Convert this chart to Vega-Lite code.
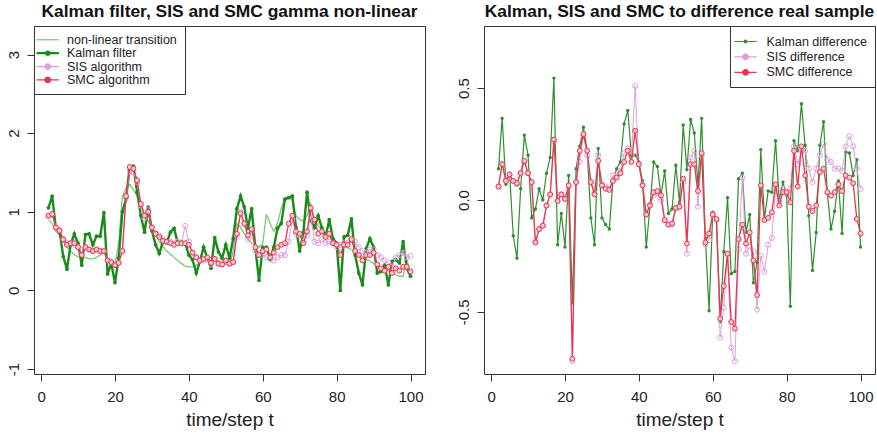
{
"$schema": "https://vega.github.io/schema/vega-lite/v6.json",
"background": "white",
"padding": {"left": 5, "top": 2, "right": 0, "bottom": 0},
"bounds": "flush",
"spacing": 59,
"config": {
  "font": "Liberation Sans",
  "view": {"stroke": "#333", "strokeWidth": 1},
  "axis": {"domain": false, "grid": false, "tickColor": "#333", "tickSize": 7, "labelFontSize": 15, "labelColor": "#222", "labelFont": "Liberation Sans", "titleFont": "Liberation Sans", "titleFontWeight": "normal", "titleFontSize": 19, "titleColor": "#222"},
  "axisX": {"labelPadding": 8, "titlePadding": 6},
  "axisY": {"labelAngle": 270, "labelAlign": "center", "labelBaseline": "bottom", "labelPadding": 6},
  "title": {"font": "Liberation Sans", "fontSize": 17.4, "fontWeight": "bold", "color": "#111", "anchor": "middle", "offset": 5},
  "legend": {"strokeColor": "#333", "fillColor": "white", "padding": 7.5, "rowPadding": 0.4, "labelFontSize": 12.5, "labelFont": "Liberation Sans", "labelColor": "#222", "labelOffset": 13, "symbolSize": 196, "cornerRadius": 0, "offset": 0}
},
"datasets": {
  "left": [
{"t":2,"nl":0.9,"kf":1.05,"sis":0.95,"smc":0.95},
{"t":3,"nl":0.85,"kf":1.2,"sis":0.97,"smc":0.97},
{"t":4,"nl":0.75,"kf":0.79,"sis":0.8,"smc":0.8},
{"t":5,"nl":0.7,"kf":0.75,"sis":0.77,"smc":0.76},
{"t":6,"nl":0.62,"kf":0.43,"sis":0.65,"smc":0.65},
{"t":7,"nl":0.55,"kf":0.27,"sis":0.6,"smc":0.58},
{"t":8,"nl":0.5,"kf":0.58,"sis":0.6,"smc":0.6},
{"t":9,"nl":0.45,"kf":0.72,"sis":0.58,"smc":0.6},
{"t":10,"nl":0.43,"kf":0.6,"sis":0.55,"smc":0.55},
{"t":11,"nl":0.42,"kf":0.32,"sis":0.46,"smc":0.45},
{"t":12,"nl":0.42,"kf":0.71,"sis":0.55,"smc":0.55},
{"t":13,"nl":0.4,"kf":0.72,"sis":0.52,"smc":0.52},
{"t":14,"nl":0.4,"kf":0.58,"sis":0.5,"smc":0.5},
{"t":15,"nl":0.42,"kf":0.69,"sis":0.52,"smc":0.52},
{"t":16,"nl":0.45,"kf":0.69,"sis":0.5,"smc":0.5},
{"t":17,"nl":0.48,"kf":0.99,"sis":0.5,"smc":0.5},
{"t":18,"nl":0.4,"kf":0.21,"sis":0.38,"smc":0.38},
{"t":19,"nl":0.35,"kf":0.34,"sis":0.36,"smc":0.36},
{"t":20,"nl":0.33,"kf":0.1,"sis":0.33,"smc":0.32},
{"t":21,"nl":0.6,"kf":0.41,"sis":0.35,"smc":0.35},
{"t":22,"nl":1.2,"kf":1.0,"sis":0.5,"smc":0.5},
{"t":23,"nl":1.3,"kf":1.16,"sis":1.18,"smc":1.2},
{"t":24,"nl":1.35,"kf":1.58,"sis":1.52,"smc":1.57},
{"t":25,"nl":1.28,"kf":1.58,"sis":1.5,"smc":1.55},
{"t":26,"nl":1.2,"kf":1.25,"sis":1.38,"smc":1.4},
{"t":27,"nl":1.1,"kf":0.95,"sis":1.08,"smc":1.1},
{"t":28,"nl":0.98,"kf":0.74,"sis":0.92,"smc":0.95},
{"t":29,"nl":0.88,"kf":1.06,"sis":1.02,"smc":1.0},
{"t":30,"nl":0.78,"kf":0.76,"sis":0.8,"smc":0.8},
{"t":31,"nl":0.7,"kf":0.58,"sis":0.73,"smc":0.72},
{"t":32,"nl":0.62,"kf":0.47,"sis":0.7,"smc":0.68},
{"t":33,"nl":0.56,"kf":0.62,"sis":0.65,"smc":0.63},
{"t":34,"nl":0.5,"kf":0.6,"sis":0.62,"smc":0.62},
{"t":35,"nl":0.46,"kf":0.74,"sis":0.62,"smc":0.6},
{"t":36,"nl":0.42,"kf":0.79,"sis":0.6,"smc":0.58},
{"t":37,"nl":0.38,"kf":0.6,"sis":0.62,"smc":0.6},
{"t":38,"nl":0.34,"kf":0.62,"sis":0.6,"smc":0.6},
{"t":39,"nl":0.31,"kf":0.6,"sis":0.82,"smc":0.6},
{"t":40,"nl":0.3,"kf":0.45,"sis":0.62,"smc":0.58},
{"t":41,"nl":0.3,"kf":0.39,"sis":0.48,"smc":0.48},
{"t":42,"nl":0.32,"kf":0.22,"sis":0.42,"smc":0.42},
{"t":43,"nl":0.35,"kf":0.37,"sis":0.38,"smc":0.38},
{"t":44,"nl":0.38,"kf":0.55,"sis":0.38,"smc":0.4},
{"t":45,"nl":0.4,"kf":0.41,"sis":0.4,"smc":0.42},
{"t":46,"nl":0.42,"kf":0.28,"sis":0.33,"smc":0.35},
{"t":47,"nl":0.4,"kf":0.67,"sis":0.4,"smc":0.4},
{"t":48,"nl":0.38,"kf":0.49,"sis":0.34,"smc":0.34},
{"t":49,"nl":0.35,"kf":0.41,"sis":0.33,"smc":0.33},
{"t":50,"nl":0.33,"kf":0.58,"sis":0.38,"smc":0.38},
{"t":51,"nl":0.32,"kf":0.41,"sis":0.34,"smc":0.34},
{"t":52,"nl":0.5,"kf":0.66,"sis":0.36,"smc":0.36},
{"t":53,"nl":0.85,"kf":1.04,"sis":0.7,"smc":0.72},
{"t":54,"nl":0.8,"kf":1.2,"sis":1.0,"smc":0.98},
{"t":55,"nl":0.72,"kf":1.06,"sis":0.85,"smc":0.85},
{"t":56,"nl":0.65,"kf":0.79,"sis":0.65,"smc":0.7},
{"t":57,"nl":0.6,"kf":1.04,"sis":0.75,"smc":0.78},
{"t":58,"nl":0.58,"kf":0.53,"sis":0.5,"smc":0.55},
{"t":59,"nl":0.55,"kf":0.13,"sis":0.45,"smc":0.45},
{"t":60,"nl":0.6,"kf":0.55,"sis":0.45,"smc":0.5},
{"t":61,"nl":0.97,"kf":0.55,"sis":0.42,"smc":0.52},
{"t":62,"nl":0.85,"kf":0.4,"sis":0.4,"smc":0.42},
{"t":63,"nl":0.75,"kf":0.55,"sis":0.38,"smc":0.48},
{"t":64,"nl":0.85,"kf":0.79,"sis":0.42,"smc":0.55},
{"t":65,"nl":1.05,"kf":0.85,"sis":0.45,"smc":0.58},
{"t":66,"nl":1.16,"kf":1.16,"sis":0.45,"smc":0.6},
{"t":67,"nl":1.18,"kf":1.18,"sis":0.62,"smc":0.85},
{"t":68,"nl":1.15,"kf":1.2,"sis":0.9,"smc":0.95},
{"t":69,"nl":0.95,"kf":0.8,"sis":0.72,"smc":0.75},
{"t":70,"nl":0.9,"kf":0.5,"sis":0.7,"smc":0.72},
{"t":71,"nl":0.88,"kf":0.74,"sis":0.62,"smc":0.6},
{"t":72,"nl":0.95,"kf":1.25,"sis":0.7,"smc":0.75},
{"t":73,"nl":1.1,"kf":0.89,"sis":0.95,"smc":1.05},
{"t":74,"nl":0.9,"kf":0.8,"sis":0.62,"smc":0.9},
{"t":75,"nl":0.82,"kf":0.95,"sis":0.6,"smc":0.72},
{"t":76,"nl":0.78,"kf":0.8,"sis":0.65,"smc":0.75},
{"t":77,"nl":0.72,"kf":0.68,"sis":0.6,"smc":0.68},
{"t":78,"nl":0.68,"kf":0.9,"sis":0.62,"smc":0.72},
{"t":79,"nl":0.65,"kf":0.66,"sis":0.6,"smc":0.6},
{"t":80,"nl":0.6,"kf":0.6,"sis":0.55,"smc":0.58},
{"t":81,"nl":0.58,"kf":0.0,"sis":0.58,"smc":0.45},
{"t":82,"nl":0.56,"kf":0.68,"sis":0.6,"smc":0.58},
{"t":83,"nl":0.54,"kf":0.7,"sis":0.6,"smc":0.58},
{"t":84,"nl":0.52,"kf":0.91,"sis":0.65,"smc":0.65},
{"t":85,"nl":0.5,"kf":0.45,"sis":0.62,"smc":0.5},
{"t":86,"nl":0.46,"kf":0.22,"sis":0.55,"smc":0.45},
{"t":87,"nl":0.43,"kf":0.07,"sis":0.5,"smc":0.38},
{"t":88,"nl":0.4,"kf":0.53,"sis":0.48,"smc":0.45},
{"t":89,"nl":0.37,"kf":0.66,"sis":0.52,"smc":0.45},
{"t":90,"nl":0.34,"kf":0.55,"sis":0.52,"smc":0.48},
{"t":91,"nl":0.3,"kf":0.22,"sis":0.45,"smc":0.33},
{"t":92,"nl":0.28,"kf":0.24,"sis":0.42,"smc":0.28},
{"t":93,"nl":0.27,"kf":0.32,"sis":0.38,"smc":0.25},
{"t":94,"nl":0.25,"kf":0.07,"sis":0.35,"smc":0.3},
{"t":95,"nl":0.22,"kf":0.37,"sis":0.3,"smc":0.22},
{"t":96,"nl":0.2,"kf":0.39,"sis":0.42,"smc":0.28},
{"t":97,"nl":0.18,"kf":0.35,"sis":0.45,"smc":0.25},
{"t":98,"nl":0.18,"kf":0.62,"sis":0.48,"smc":0.3},
{"t":99,"nl":0.4,"kf":0.28,"sis":0.42,"smc":0.3},
{"t":100,"nl":0.2,"kf":0.18,"sis":0.44,"smc":0.24}
  ],
  "right": [
{"t":2,"kd":0.14,"sd":0.06,"md":0.06},
{"t":3,"kd":0.365,"sd":0.16,"md":0.16},
{"t":4,"kd":0.07,"sd":0.09,"md":0.085},
{"t":5,"kd":0.12,"sd":0.11,"md":0.115},
{"t":6,"kd":-0.16,"sd":0.085,"md":0.085},
{"t":7,"kd":-0.26,"sd":0.07,"md":0.075},
{"t":8,"kd":0.05,"sd":0.12,"md":0.12},
{"t":9,"kd":0.29,"sd":0.17,"md":0.175},
{"t":10,"kd":0.2,"sd":0.12,"md":0.12},
{"t":11,"kd":-0.08,"sd":0.08,"md":0.08},
{"t":12,"kd":-0.04,"sd":-0.19,"md":-0.19},
{"t":13,"kd":0.05,"sd":-0.13,"md":-0.13},
{"t":14,"kd":0.0,"sd":-0.115,"md":-0.115},
{"t":15,"kd":0.12,"sd":-0.025,"md":-0.025},
{"t":16,"kd":0.19,"sd":0.025,"md":0.025},
{"t":17,"kd":0.545,"sd":0.26,"md":0.27},
{"t":18,"kd":-0.2,"sd":-0.005,"md":-0.005},
{"t":19,"kd":-0.06,"sd":0.025,"md":0.025},
{"t":20,"kd":-0.21,"sd":0.005,"md":0.005},
{"t":21,"kd":0.11,"sd":0.06,"md":0.065},
{"t":22,"kd":-0.46,"sd":-0.72,"md":-0.71},
{"t":23,"kd":0.14,"sd":0.08,"md":0.08},
{"t":24,"kd":0.24,"sd":0.17,"md":0.22},
{"t":25,"kd":0.325,"sd":0.29,"md":0.295},
{"t":26,"kd":0.22,"sd":0.2,"md":0.22},
{"t":27,"kd":-0.08,"sd":0.08,"md":0.08},
{"t":28,"kd":-0.2,"sd":0.03,"md":0.025},
{"t":29,"kd":0.23,"sd":0.2,"md":0.175},
{"t":30,"kd":-0.08,"sd":0.07,"md":0.065},
{"t":31,"kd":-0.11,"sd":0.06,"md":0.05},
{"t":32,"kd":-0.13,"sd":0.05,"md":0.045},
{"t":33,"kd":0.09,"sd":0.11,"md":0.085},
{"t":34,"kd":0.14,"sd":0.11,"md":0.1},
{"t":35,"kd":0.17,"sd":0.13,"md":0.12},
{"t":36,"kd":0.34,"sd":0.21,"md":0.17},
{"t":37,"kd":0.4,"sd":0.23,"md":0.22},
{"t":38,"kd":0.2,"sd":0.2,"md":0.17},
{"t":39,"kd":0.2,"sd":0.51,"md":0.31},
{"t":40,"kd":0.17,"sd":0.16,"md":0.16},
{"t":41,"kd":0.085,"sd":0.07,"md":0.065},
{"t":42,"kd":-0.21,"sd":-0.06,"md":-0.065},
{"t":43,"kd":-0.03,"sd":-0.02,"md":-0.025},
{"t":44,"kd":0.17,"sd":0.02,"md":0.035},
{"t":45,"kd":0.15,"sd":0.03,"md":0.04},
{"t":46,"kd":0.02,"sd":0.0,"md":0.02},
{"t":47,"kd":0.13,"sd":-0.09,"md":-0.09},
{"t":48,"kd":-0.06,"sd":-0.11,"md":-0.11},
{"t":49,"kd":-0.04,"sd":-0.11,"md":-0.105},
{"t":50,"kd":0.155,"sd":-0.04,"md":-0.035},
{"t":51,"kd":-0.01,"sd":-0.03,"md":-0.03},
{"t":52,"kd":0.335,"sd":0.08,"md":0.095},
{"t":53,"kd":0.135,"sd":-0.24,"md":-0.195},
{"t":54,"kd":0.36,"sd":0.19,"md":0.16},
{"t":55,"kd":0.3,"sd":0.22,"md":0.16},
{"t":56,"kd":0.065,"sd":-0.03,"md":0.04},
{"t":57,"kd":0.365,"sd":0.2,"md":0.21},
{"t":58,"kd":-0.17,"sd":-0.2,"md":-0.19},
{"t":59,"kd":-0.495,"sd":-0.18,"md":-0.15},
{"t":60,"kd":-0.055,"sd":-0.06,"md":-0.065},
{"t":61,"kd":-0.085,"sd":-0.09,"md":-0.085},
{"t":62,"kd":-0.545,"sd":-0.615,"md":-0.53},
{"t":63,"kd":-0.23,"sd":-0.48,"md":-0.385},
{"t":64,"kd":0.01,"sd":-0.24,"md":-0.24},
{"t":65,"kd":-0.33,"sd":-0.66,"md":-0.545},
{"t":66,"kd":-0.32,"sd":-0.72,"md":-0.575},
{"t":67,"kd":0.095,"sd":-0.22,"md":-0.175},
{"t":68,"kd":0.12,"sd":0.1,"md":-0.11},
{"t":69,"kd":-0.145,"sd":-0.24,"md":-0.195},
{"t":70,"kd":-0.065,"sd":-0.21,"md":-0.145},
{"t":71,"kd":-0.37,"sd":-0.23,"md":-0.27},
{"t":72,"kd":-0.28,"sd":-0.49,"md":-0.425},
{"t":73,"kd":0.225,"sd":-0.25,"md":0.065},
{"t":74,"kd":-0.085,"sd":-0.32,"md":-0.09},
{"t":75,"kd":0.04,"sd":-0.2,"md":-0.08},
{"t":76,"kd":0.035,"sd":-0.17,"md":-0.055},
{"t":77,"kd":0.265,"sd":0.05,"md":0.07},
{"t":78,"kd":0.0,"sd":-0.01,"md":-0.025},
{"t":79,"kd":0.08,"sd":0.05,"md":0.035},
{"t":80,"kd":0.02,"sd":0.03,"md":0.035},
{"t":81,"kd":-0.475,"sd":0.05,"md":-0.01},
{"t":82,"kd":0.265,"sd":0.24,"md":0.22},
{"t":83,"kd":0.22,"sd":0.16,"md":0.06},
{"t":84,"kd":0.43,"sd":0.22,"md":0.24},
{"t":85,"kd":0.245,"sd":0.22,"md":0.11},
{"t":86,"kd":-0.07,"sd":0.14,"md":-0.03},
{"t":87,"kd":-0.315,"sd":0.08,"md":-0.05},
{"t":88,"kd":-0.145,"sd":0.14,"md":-0.025},
{"t":89,"kd":0.245,"sd":0.2,"md":0.125},
{"t":90,"kd":0.35,"sd":0.25,"md":0.14},
{"t":91,"kd":0.035,"sd":0.18,"md":0.035},
{"t":92,"kd":-0.13,"sd":0.17,"md":0.02},
{"t":93,"kd":-0.05,"sd":0.14,"md":0.035},
{"t":94,"kd":0.085,"sd":0.14,"md":0.07},
{"t":95,"kd":-0.15,"sd":0.13,"md":0.04},
{"t":96,"kd":0.215,"sd":0.24,"md":0.11},
{"t":97,"kd":0.21,"sd":0.285,"md":0.1},
{"t":98,"kd":0.11,"sd":0.24,"md":0.075},
{"t":99,"kd":0.18,"sd":0.14,"md":-0.085},
{"t":100,"kd":-0.21,"sd":0.05,"md":-0.15}
  ]
},
"resolve": {"scale": {"color": "independent", "x": "independent", "y": "independent"}, "legend": {"color": "independent"}},
"hconcat": [
  {
    "width": 391, "height": 348,
    "title": "Kalman filter, SIS and SMC gamma non-linear",
    "data": {"name": "left"},
    "encoding": {
      "x": {"field": "t", "type": "quantitative", "scale": {"domain": [-1.92, 103.92], "nice": false, "zero": false}, "axis": {"values": [0, 20, 40, 60, 80, 100], "labelExpr": "'' + datum.value", "title": "time/step t"}}
    },
    "layer": [
      {"mark": {"type": "line", "strokeWidth": 1.3},
       "encoding": {"y": {"field": "nl", "type": "quantitative", "scale": {"domain": [-1.064, 3.364], "nice": false, "zero": false}, "axis": {"values": [-1, 0, 1, 2, 3], "labelExpr": "'' + datum.value", "title": null}},
         "color": {"datum": "non-linear transition", "type": "nominal", "scale": {"domain": ["non-linear transition", "Kalman filter", "SIS algorithm", "SMC algorithm"], "range": ["#78c878", "#1a8a1a", "#dda0dd", "#e8364f"]},
           "legend": {"title": null, "orient": "top-left",
             "encode": {"symbols": {"update": {
               "shape": {"signal": "datum.value === 'non-linear transition' ? 'M-1.6,0L1.6,0' : datum.value === 'Kalman filter' ? 'M-1.6,0L1.6,0M0.22,0A0.22,0.22 0 1,1 -0.22,0A0.22,0.22 0 1,1 0.22,0' : 'M-1.6,0L1.6,0M0.4,0A0.4,0.4 0 1,1 -0.4,0A0.4,0.4 0 1,1 0.4,0'"},
               "fill": {"signal": "datum.value === 'Kalman filter' ? '#1a8a1a' : datum.value === 'SMC algorithm' ? '#f8c6cf' : 'transparent'"},
               "strokeWidth": {"signal": "datum.value === 'Kalman filter' ? 2.2 : 1.2"},
               "opacity": {"value": 1}}}}}}}},
      {"mark": {"type": "line", "strokeWidth": 2.4},
       "encoding": {"y": {"field": "kf", "type": "quantitative"}, "color": {"datum": "Kalman filter", "type": "nominal"}}},
      {"mark": {"type": "point", "filled": true, "size": 14, "opacity": 1},
       "encoding": {"y": {"field": "kf", "type": "quantitative"}, "color": {"datum": "Kalman filter", "type": "nominal"}}},
      {"mark": {"type": "line", "strokeWidth": 1},
       "encoding": {"y": {"field": "sis", "type": "quantitative"}, "color": {"datum": "SIS algorithm", "type": "nominal"}}},
      {"mark": {"type": "point", "filled": false, "size": 26, "strokeWidth": 1, "opacity": 1},
       "encoding": {"y": {"field": "sis", "type": "quantitative"}, "color": {"datum": "SIS algorithm", "type": "nominal"}}},
      {"mark": {"type": "line", "strokeWidth": 1.3},
       "encoding": {"y": {"field": "smc", "type": "quantitative"}, "color": {"datum": "SMC algorithm", "type": "nominal"}}},
      {"mark": {"type": "point", "filled": false, "fill": "#f8c6cf", "size": 24, "strokeWidth": 1, "opacity": 1},
       "encoding": {"y": {"field": "smc", "type": "quantitative"}, "color": {"datum": "SMC algorithm", "type": "nominal"}}}
    ]
  },
  {
    "width": 391, "height": 348,
    "title": "Kalman, SIS and SMC to difference real sample",
    "data": {"name": "right"},
    "encoding": {
      "x": {"field": "t", "type": "quantitative", "scale": {"domain": [-1.92, 103.92], "nice": false, "zero": false}, "axis": {"values": [0, 20, 40, 60, 80, 100], "labelExpr": "'' + datum.value", "title": "time/step t"}}
    },
    "layer": [
      {"mark": {"type": "rule", "color": "#333", "strokeWidth": 1.5},
       "encoding": {"y": {"datum": 0, "type": "quantitative", "scale": {"domain": [-0.778, 0.778], "nice": false, "zero": false}, "axis": {"values": [-0.5, 0, 0.5], "labelExpr": "datum.value === 0 ? '0.0' : '' + datum.value", "title": null}}}},
      {"mark": {"type": "line", "strokeWidth": 1.2},
       "encoding": {"y": {"field": "kd", "type": "quantitative"},
         "color": {"datum": "Kalman difference", "type": "nominal", "scale": {"domain": ["Kalman difference", "SIS difference", "SMC difference"], "range": ["#2f8f2f", "#dda0dd", "#e8364f"]},
           "legend": {"title": null, "orient": "top-right",
             "encode": {"symbols": {"update": {
               "shape": {"signal": "datum.value === 'Kalman difference' ? 'M-1.6,0L1.6,0M0.2,0A0.2,0.2 0 1,1 -0.2,0A0.2,0.2 0 1,1 0.2,0' : 'M-1.6,0L1.6,0M0.4,0A0.4,0.4 0 1,1 -0.4,0A0.4,0.4 0 1,1 0.4,0'"},
               "fill": {"signal": "datum.value === 'Kalman difference' ? '#1a7a1a' : datum.value === 'SMC difference' ? '#f8c6cf' : 'transparent'"},
               "strokeWidth": {"value": 1.2},
               "opacity": {"value": 1}}}}}}}},
      {"mark": {"type": "point", "filled": true, "size": 12, "opacity": 1},
       "encoding": {"y": {"field": "kd", "type": "quantitative"}, "color": {"datum": "Kalman difference", "type": "nominal"}}},
      {"mark": {"type": "line", "strokeWidth": 1},
       "encoding": {"y": {"field": "sd", "type": "quantitative"}, "color": {"datum": "SIS difference", "type": "nominal"}}},
      {"mark": {"type": "point", "filled": false, "size": 26, "strokeWidth": 1, "opacity": 1},
       "encoding": {"y": {"field": "sd", "type": "quantitative"}, "color": {"datum": "SIS difference", "type": "nominal"}}},
      {"mark": {"type": "line", "strokeWidth": 1.3},
       "encoding": {"y": {"field": "md", "type": "quantitative"}, "color": {"datum": "SMC difference", "type": "nominal"}}},
      {"mark": {"type": "point", "filled": false, "fill": "#f8c6cf", "size": 24, "strokeWidth": 1, "opacity": 1},
       "encoding": {"y": {"field": "md", "type": "quantitative"}, "color": {"datum": "SMC difference", "type": "nominal"}}}
    ]
  }
]
}
